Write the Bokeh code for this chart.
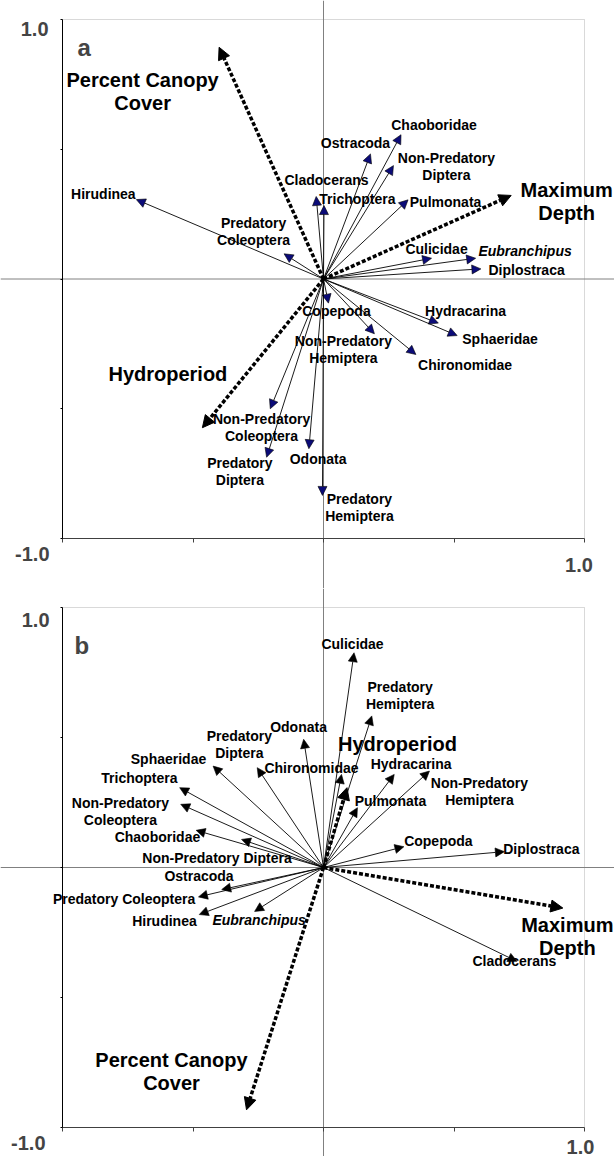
from bokeh.plotting import figure
from bokeh.models import (ColumnDataSource, Arrow, NormalHead, LabelSet, Label,
                          Span, FixedTicker, CustomJSTickFormatter, LinearAxis,
                          BoxAnnotation, Range1d)
from bokeh.core.properties import value
from bokeh.layouts import column
from bokeh.embed import file_html
from bokeh.resources import INLINE

FONT = "Liberation Sans"

# ---------------- data: panel a ----------------
species_a = ["Hirudinea", "Predatory\nColeoptera", "Cladocerans", "Trichoptera",
             "Ostracoda", "Chaoboridae", "Non-Predatory\nDiptera", "Pulmonata",
             "Culicidae", "Eubranchipus", "Diplostraca", "Copepoda", "Hydracarina",
             "Sphaeridae", "Non-Predatory\nHemiptera", "Chironomidae",
             "Non-Predatory\nColeoptera", "Predatory\nDiptera", "Odonata",
             "Predatory\nHemiptera"]
axis1_a = [-0.717, -0.151, -0.028, 0.002, 0.180, 0.297, 0.268, 0.324, 0.414, 0.583,
           0.603, 0.019, 0.440, 0.512, 0.195, 0.354, -0.204, -0.218, -0.056, -0.004]
axis2_a = [0.306, 0.097, 0.318, 0.283, 0.482, 0.556, 0.437, 0.305, 0.080, 0.080,
           0.039, -0.093, -0.170, -0.218, -0.211, -0.291, -0.500, -0.687, -0.654, -0.834]
env_a = ["Percent Canopy\nCover", "Maximum\nDepth", "Hydroperiod"]
env1_a = [-0.400, 0.719, -0.464]
env2_a = [0.893, 0.322, -0.573]

# ---------------- data: panel b ----------------
species_b = ["Culicidae", "Predatory\nHemiptera", "Odonata", "Predatory\nDiptera",
             "Chironomidae", "Hydracarina", "Non-Predatory\nHemiptera", "Pulmonata",
             "Sphaeridae", "Trichoptera", "Non-Predatory\nColeoptera", "Chaoboridae",
             "Non-Predatory Diptera", "Copepoda", "Diplostraca", "Ostracoda",
             "Predatory Coleoptera", "Hirudinea", "Eubranchipus", "Cladocerans"]
axis1_b = [0.117, 0.185, -0.076, -0.254, 0.069, 0.271, 0.406, 0.130, -0.423, -0.551,
           -0.547, -0.488, -0.314, 0.308, 0.693, -0.390, -0.479, -0.476, -0.264, 0.741]
axis2_b = [0.826, 0.583, 0.493, 0.384, 0.358, 0.358, 0.371, 0.230, 0.390, 0.307,
           0.243, 0.143, 0.108, 0.080, 0.061, -0.085, -0.113, -0.181, -0.169, -0.361]
env_b = ["Hydroperiod", "Maximum\nDepth", "Percent Canopy\nCover"]
env1_b = [0.090, 0.917, -0.295]
env2_b = [0.307, -0.156, -0.932]

axis_min, axis_max = -1.0, 1.0
tick_values = [-1.0, -0.5, 0.0, 0.5, 1.0]
corner_labels = ["1.0", "-1.0", "1.0"]
italic_taxa = ["Eubranchipus"]

# ------- layout: pixel offsets of label centres from arrow tips (right, down) -------
offs_a = [(-33, -5.7), (-30.5, -22.8), (10.3, -16), (33.4, -6.7), (-15, -10.6),
          (33, -10), (53, 0.7), (37.5, 2.4), (5, -9.4), (49.4, -7.7), (45.7, 0.7),
          (8, 7.6), (27.2, -12.4), (42.9, 3.3), (-31, 15.9), (49.2, 10), (-8.7, 18.4),
          (-26.7, 13.8), (9.2, 10), (37, 11.7)]
env_offs_a = [(-76.5, 43.8), (55.5, 6.3), (-34.5, -53.3)]
offs_b = [(-1.5, -8.4), (28.4, -20.5), (-5.1, -12.3), (-17.9, -23), (-30, -6),
          (16.9, -10), (50, 20.3), (33, -6.7), (-44.6, -6.7), (-40.3, -9.4),
          (-60.3, 7), (-38.7, 6.4), (-24.5, 18.4), (34.5, -5.7), (37, -3),
          (-22.7, -13.4), (-74.4, 1.7), (-34.8, 6.6), (4.5, 9), (-2.5, -0.6)]
env_offs_b = [(50.5, -43.4), (4.5, 28.8), (-75, -38.4)]

CW = 614          # canvas width
BOX_L, BOX_W = 62, 522


def split_lines(texts, xs, ys, offs, sx, sy, lh):
    out = dict(x=[], y=[], t=[], ital=[])
    for t, x, y, o in zip(texts, xs, ys, offs):
        lines = t.split("\n")
        n = len(lines)
        for k, line in enumerate(lines):
            dy_px = o[1] + (k - (n - 1) / 2.0) * lh
            out["x"].append(x + o[0] / sx)
            out["y"].append(y - dy_px / sy)
            out["t"].append(line)
            out["ital"].append(t in italic_taxa)
    return out


def add_labels(p, d, size, style_norm, style_ital):
    for flag, style in ((False, style_norm), (True, style_ital)):
        idx = [i for i, f in enumerate(d["ital"]) if f == flag]
        if not idx:
            continue
        src = ColumnDataSource(dict(x=[d["x"][i] for i in idx], y=[d["y"][i] for i in idx],
                                    t=[d["t"][i] for i in idx]))
        p.add_layout(LabelSet(x="x", y="y", text="t", source=src, text_align="center",
                              text_baseline="middle", text_font=value(FONT),
                              text_font_size=value(size), text_font_style=value(style),
                              text_color=value("black")))


def box_axis(color, tick_len):
    # ticks drawn outward from the box edge without reserving side-panel space
    return LinearAxis(fixed_location=axis_min, bounds=(axis_min, axis_max),
                      ticker=FixedTicker(ticks=tick_values),
                      formatter=CustomJSTickFormatter(code="return ''"),
                      axis_line_color=color, major_tick_line_color=color,
                      major_tick_out=0, major_tick_in=-tick_len,
                      minor_tick_line_color=None, major_label_standoff=0,
                      major_label_text_font_size="0px")


def make_panel(letter, sp, x1, x2, offs, env, e1, e2, eoffs, head_fill,
               ch, box_top, box_h, letter_off, corner_offs):
    span = axis_max - axis_min
    sx = BOX_W / span
    sy = box_h / span
    xr = Range1d(axis_min - BOX_L / sx, axis_max + (CW - BOX_L - BOX_W) / sx)
    yr = Range1d(axis_min - (ch - box_top - box_h) / sy, axis_max + box_top / sy)
    p = figure(width=CW, height=ch, x_range=xr, y_range=yr,
               x_axis_location=None, y_axis_location=None,
               output_backend="svg", toolbar_location=None,
               min_border=0, background_fill_color="white", border_fill_color="white",
               outline_line_color=None)
    p.grid.visible = False

    # plot box
    p.add_layout(BoxAnnotation(left=axis_min, right=axis_max, bottom=axis_min, top=axis_max,
                               fill_color=None, line_color="#808080", line_width=1,
                               level="underlay"))
    for dim in ("width", "height"):
        p.add_layout(Span(location=0, dimension=dim, line_color="#808080",
                          line_width=1, level="underlay"))

    p.add_layout(box_axis("#404040", 4), "below")
    p.add_layout(box_axis("black", 2), "left")

    # species arrows
    src = ColumnDataSource(dict(x0=[0] * len(x1), y0=[0] * len(x1), x1=x1, y1=x2))
    p.add_layout(Arrow(end=NormalHead(size=9, fill_color=head_fill, line_color="black",
                                      line_width=0.6),
                       x_start="x0", y_start="y0", x_end="x1", y_end="y1",
                       source=src, line_color="black", line_width=0.9))
    # environmental arrows
    esrc = ColumnDataSource(dict(x0=[0] * len(e1), y0=[0] * len(e1), x1=e1, y1=e2))
    p.add_layout(Arrow(end=NormalHead(size=12, fill_color="black", line_color="black",
                                      line_width=1),
                       x_start="x0", y_start="y0", x_end="x1", y_end="y1",
                       source=esrc, line_color="black", line_width=3.5,
                       line_dash="4 2"))

    add_labels(p, split_lines(sp, x1, x2, offs, sx, sy, 17), "14px", "bold", "bold italic")
    add_labels(p, split_lines(env, e1, e2, eoffs, sx, sy, 23), "20px", "bold", "bold")

    # panel letter
    p.add_layout(Label(x=axis_min + letter_off[0] / sx, y=axis_max - letter_off[1] / sy,
                       text=letter, text_font=FONT, text_font_size="24px",
                       text_font_style="bold", text_align="left",
                       text_baseline="alphabetic"))
    # corner value labels
    anchors = [(axis_min, axis_max, "right"), (axis_min, axis_min, "right"),
               (axis_max, axis_min, "center")]
    for (ax_, ay_, al), t, o in zip(anchors, corner_labels, corner_offs):
        p.add_layout(Label(x=ax_ + o[0] / sx, y=ay_ - o[1] / sy, text=t,
                           text_font=FONT, text_font_size="20px", text_font_style="bold",
                           text_align=al, text_baseline="alphabetic"))
    return p


pa = make_panel("a", species_a, axis1_a, axis2_a, offs_a, env_a, env1_a, env2_a,
                env_offs_a, "#0b0b78", 588, 19, 519, (15, 28),
                [(-14, 9), (-13, 15), (-5.5, 26)])
pb = make_panel("b", species_b, axis1_b, axis2_b, offs_b, env_b, env1_b, env2_b,
                env_offs_b, "black", 568, 19, 520, (12, 38),
                [(-13, 12), (-17, 15), (-4, 19)])

layout = column(pa, pb, spacing=0)
open("out.html", "w").write(file_html(layout, INLINE))
